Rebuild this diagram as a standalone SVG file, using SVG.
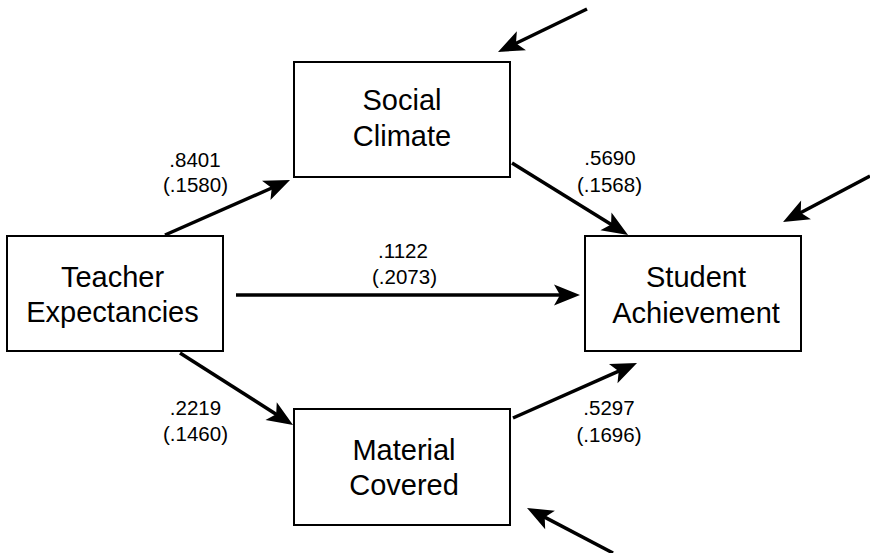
<svg xmlns="http://www.w3.org/2000/svg" width="870" height="553" viewBox="0 0 870 553">
<style>
.box{fill:#fff;stroke:#000;stroke-width:2}
.node{font-family:"Liberation Sans",Arial,sans-serif;font-size:29px;fill:#000;text-anchor:middle}
.lbl{font-family:"Liberation Sans",Arial,sans-serif;font-size:20.5px;fill:#000;text-anchor:middle}
.arr{stroke:#000;stroke-width:3.5;fill:none;marker-end:url(#ah)}
</style>
<defs>
<marker id="ah" markerUnits="userSpaceOnUse" refX="0" refY="0" markerWidth="40" markerHeight="40" orient="auto" overflow="visible">
<path d="M15,0 L-11,-10.5 L-5,0 L-11,10.5 Z" fill="#000"/>
</marker>
</defs>
<rect width="870" height="553" fill="#fff"/>
<g id="social-climate">
<rect class="box" x="294" y="62" width="216" height="115"/>
<text class="node" x="402" y="110">Social</text>
<text class="node" x="402" y="146">Climate</text>
</g>
<g id="teacher-expectancies">
<rect class="box" x="7" y="236" width="216" height="115"/>
<text class="node" x="112.5" y="287">Teacher</text>
<text class="node" x="112.5" y="322">Expectancies</text>
</g>
<g id="student-achievement">
<rect class="box" x="585" y="236" width="216" height="115"/>
<text class="node" x="696" y="287">Student</text>
<text class="node" x="696" y="323">Achievement</text>
</g>
<g id="material-covered">
<rect class="box" x="294" y="409" width="216" height="116"/>
<text class="node" x="404" y="460">Material</text>
<text class="node" x="404" y="495">Covered</text>
</g>
<g id="connectors">
<line class="arr" x1="165" y1="235" x2="276.3" y2="186"/>
<line class="arr" x1="236" y1="295" x2="565" y2="295"/>
<line class="arr" x1="512" y1="163" x2="615.3" y2="227.1"/>
<line class="arr" x1="180" y1="353" x2="280.4" y2="417"/>
<line class="arr" x1="513" y1="418" x2="623.3" y2="369.1"/>
<line class="arr" x1="587" y1="9" x2="511.5" y2="45.5"/>
<line class="arr" x1="870" y1="176" x2="796.3" y2="215"/>
<line class="arr" x1="613" y1="553" x2="540.3" y2="514.9"/>
</g>
<g id="labels">
<text class="lbl" x="195" y="166.5">.8401</text>
<text class="lbl" x="195.5" y="191.5">(.1580)</text>
<text class="lbl" x="610" y="165">.5690</text>
<text class="lbl" x="609.5" y="191.5">(.1568)</text>
<text class="lbl" x="403" y="258">.1122</text>
<text class="lbl" x="404.5" y="283.5">(.2073)</text>
<text class="lbl" x="195.5" y="415">.2219</text>
<text class="lbl" x="195.5" y="441">(.1460)</text>
<text class="lbl" x="609" y="415">.5297</text>
<text class="lbl" x="609" y="441.5">(.1696)</text>
</g>
</svg>
